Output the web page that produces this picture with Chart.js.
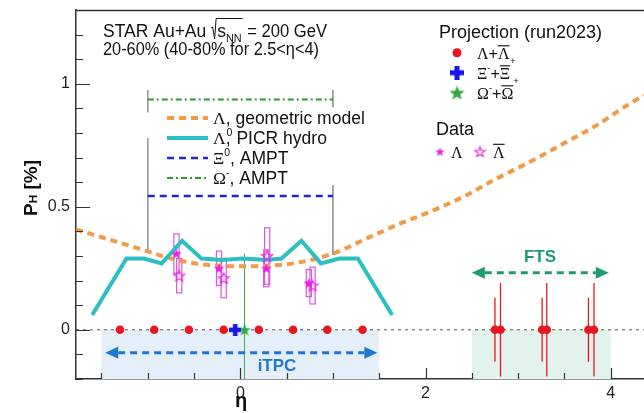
<!DOCTYPE html>
<html>
<head>
<meta charset="utf-8">
<script src="https://cdn.jsdelivr.net/npm/chart.js@4.4.1/dist/chart.umd.min.js"></script>
<style>
  html, body { margin: 0; padding: 0; background: #fff; }
  canvas { display: block; }
</style>
</head>
<body>
<canvas id="chart" width="644" height="413"></canvas>
<script>
// geometric model, Lambda
var etaGeo = [-1.775, -1.4, -1.05, -0.8, -0.44, 0.0, 0.57, 1.0, 1.33, 1.69, 2.05, 2.41, 2.77, 3.13, 3.49, 3.85, 4.21, 4.36];
var polGeo = [0.408, 0.365, 0.325, 0.295, 0.267, 0.258, 0.27, 0.31, 0.365, 0.426, 0.48, 0.541, 0.615, 0.683, 0.757, 0.832, 0.92, 0.953];

// PICR hydro, Lambda
var etaHydro = [-1.6, -1.23, -1.04, -0.85, -0.63, -0.42, -0.2, 0.02, 0.25, 0.44, 0.66, 0.87, 1.07, 1.27, 1.64];
var polHydro = [0.06, 0.29, 0.29, 0.27, 0.362, 0.29, 0.284, 0.29, 0.285, 0.289, 0.362, 0.27, 0.29, 0.29, 0.06];

// AMPT
var etaAmpt = [-1, 1];
var polXiAmpt = [0.544, 0.544];
var polOmegaAmpt = [0.936, 0.936];

// eta = +-1 markers (two visible pieces each side)
var etaMarkLeft = [-1, -1, -1, -1];
var polMarkLeft = [0.975, 0.884, 0.779, 0.316];
var etaMarkRight = [1, 1, 1, 1];
var polMarkRight = [0.975, 0.905, 0.588, 0.304];

// projections (run2023)
var etaProjLam = [-1.3, -0.93, -0.555, -0.18, 0.2, 0.57, 0.94, 1.32];
var polProjLam = [0, 0, 0, 0, 0, 0, 0, 0];
var etaProjXi = [-0.055];
var polProjXi = [0];
var etaProjOmega = [0.045];
var polProjOmega = [0];
var errProjOmega = [0.31];
var etaProjFts = [2.75, 2.81, 3.26, 3.31, 3.76, 3.82];
var polProjFts = [0, 0, 0, 0, 0, 0];
var errProjFts = [0.13, 0.19, 0.13, 0.19, 0.13, 0.19];

// measured Lambda / anti-Lambda with systematic boxes
var etaLam = [-0.69, -0.23, 0.28, 0.74];
var polLam = [0.31, 0.25, 0.25, 0.19];
var sysLam = [0.08, 0.07, 0.075, 0.055];
var etaLamBar = [-0.66, -0.18, 0.29, 0.78];
var polLamBar = [0.22, 0.21, 0.30, 0.18];
var sysLamBar = [0.07, 0.08, 0.115, 0.075];

// detector acceptance
var itpcRange = [-1.5, 1.5];
var itpcArrow = [-1.46, 1.48, -0.093];
var ftsRange = [2.5, 4.0];
var ftsArrow = [2.5, 3.98, 0.232];

var xTickLabels = [0, 2, 4];
var yTickLabels = [0, 0.5, 1];

var SANS = "'Liberation Sans', Arial, sans-serif";
var SERIF = "'Liberation Serif', 'Times New Roman', serif";

function pts(xs, ys) {
    var out = [];
    for (var i = 0; i < xs.length; i++) {
        out.push({x: xs[i], y: ys[i]});
    }
    return out;
}

// marker images
function starImg(size, fill, stroke, lw) {
    var c = document.createElement('canvas');
    c.width = size; c.height = size;
    var g = c.getContext('2d');
    var r = size / 2 - (lw || 0.5), ri = r * 0.42, cx = size / 2, cy = size / 2 + r * 0.08;
    g.beginPath();
    for (var i = 0; i < 10; i++) {
        var a = -Math.PI / 2 + i * Math.PI / 5;
        var rr = (i % 2) ? ri : r;
        g.lineTo(cx + rr * Math.cos(a), cy + rr * Math.sin(a));
    }
    g.closePath();
    if (fill) { g.fillStyle = fill; g.fill(); }
    if (stroke) { g.strokeStyle = stroke; g.lineWidth = lw; g.stroke(); }
    return c;
}

function plusImg(size, thick, color) {
    var c = document.createElement('canvas');
    c.width = size; c.height = size;
    var g = c.getContext('2d');
    g.fillStyle = color;
    g.fillRect(0, (size - thick) / 2, size, thick);
    g.fillRect((size - thick) / 2, 0, thick, size);
    return c;
}

var RED = '#e8161e';
var MAGENTA = '#ee1fee';
var MAG_BOX = '#dd55dd';
var ORANGE = '#f29a48';
var CYAN = '#2cbfc2';
var BLUE_AMPT = '#2424d4';
var GREEN_AMPT = '#2a9a2a';
var GREEN_STAR = '#33a845';
var ITPC = '#1f78d0';
var FTS = '#1f9a72';

var lamStar = starImg(12, MAGENTA, null, 0);
var lamBarStar = starImg(14, null, MAGENTA, 1.1);
var omegaStar = starImg(14, GREEN_STAR, null, 0);
var xiPlus = plusImg(12, 4.5, '#1515e8');
var lamStarSmall = starImg(11, MAGENTA, null, 0);
var lamBarStarSmall = starImg(13, null, MAGENTA, 1.1);
var omegaStarBig = starImg(17, GREEN_STAR, null, 0);
var xiPlusBig = plusImg(14, 5, '#1515e8');

// rich text: pieces drawn one after another
function rich(ctx, x, y, parts, base) {
    var cx = x;
    for (var i = 0; i < parts.length; i++) {
        var p = parts[i];
        var size = (p.s || 1) * base;
        ctx.font = (p.b ? 'bold ' : '') + size + 'px ' + (p.g ? SERIF : SANS);
        var w = ctx.measureText(p.t).width;
        var xx = cx + (p.dx || 0) * base;
        var yy = y + (p.dy || 0) * base;
        ctx.fillText(p.t, xx, yy);
        if (p.o) {
            ctx.fillRect(xx, yy - size * 0.86, w, Math.max(1, size * 0.07));
        }
        cx = xx + w;
    }
    return cx;
}

function arrow(ctx, x1, x2, y, color) {
    var hl = 13, hh = 6;
    ctx.save();
    ctx.strokeStyle = color;
    ctx.fillStyle = color;
    ctx.lineWidth = 3;
    ctx.setLineDash([7, 5]);
    ctx.beginPath();
    ctx.moveTo(x1 + hl, y);
    ctx.lineTo(x2 - hl, y);
    ctx.stroke();
    ctx.setLineDash([]);
    ctx.beginPath();
    ctx.moveTo(x1, y); ctx.lineTo(x1 + hl, y - hh); ctx.lineTo(x1 + hl, y + hh); ctx.closePath();
    ctx.fill();
    ctx.beginPath();
    ctx.moveTo(x2, y); ctx.lineTo(x2 - hl, y - hh); ctx.lineTo(x2 - hl, y + hh); ctx.closePath();
    ctx.fill();
    ctx.restore();
}

var decor = {
    id: 'decor',
    beforeDatasetsDraw: function(chart) {
        var ctx = chart.ctx, xs = chart.scales.x, ys = chart.scales.y, a = chart.chartArea;
        ctx.save();
        // acceptance bands below zero
        ctx.fillStyle = 'rgb(228,239,250)';
        ctx.fillRect(xs.getPixelForValue(itpcRange[0]), ys.getPixelForValue(0),
            xs.getPixelForValue(itpcRange[1]) - xs.getPixelForValue(itpcRange[0]), a.bottom - ys.getPixelForValue(0));
        ctx.fillStyle = 'rgb(226,242,237)';
        ctx.fillRect(xs.getPixelForValue(ftsRange[0]), ys.getPixelForValue(0),
            xs.getPixelForValue(ftsRange[1]) - xs.getPixelForValue(ftsRange[0]), a.bottom - ys.getPixelForValue(0));

        // zero line
        ctx.strokeStyle = '#555';
        ctx.lineWidth = 1;
        ctx.setLineDash([3, 4]);
        ctx.beginPath();
        ctx.moveTo(a.left, ys.getPixelForValue(0));
        ctx.lineTo(a.right, ys.getPixelForValue(0));
        ctx.stroke();
        ctx.setLineDash([]);

        // systematic boxes
        ctx.strokeStyle = MAG_BOX;
        ctx.lineWidth = 1.2;
        function boxes(eta, pol, sys) {
            for (var i = 0; i < eta.length; i++) {
                var x0 = xs.getPixelForValue(eta[i] - 0.028), x1 = xs.getPixelForValue(eta[i] + 0.028);
                var y0 = ys.getPixelForValue(pol[i] + sys[i]), y1 = ys.getPixelForValue(pol[i] - sys[i]);
                ctx.strokeRect(x0, y0, x1 - x0, y1 - y0);
            }
        }
        boxes(etaLam, polLam, sysLam);
        boxes(etaLamBar, polLamBar, sysLamBar);

        // projection error bars
        ctx.strokeStyle = RED;
        ctx.lineWidth = 1.3;
        for (var i = 0; i < etaProjFts.length; i++) {
            var x = xs.getPixelForValue(etaProjFts[i]);
            ctx.beginPath();
            ctx.moveTo(x, ys.getPixelForValue(polProjFts[i] + errProjFts[i]));
            ctx.lineTo(x, ys.getPixelForValue(polProjFts[i] - errProjFts[i]));
            ctx.stroke();
        }
        ctx.strokeStyle = '#45b050';
        ctx.lineWidth = 1;
        var xo = xs.getPixelForValue(etaProjOmega[0]);
        ctx.beginPath();
        ctx.moveTo(xo, ys.getPixelForValue(polProjOmega[0] + errProjOmega[0]));
        ctx.lineTo(xo, Math.min(a.bottom, ys.getPixelForValue(polProjOmega[0] - errProjOmega[0])));
        ctx.stroke();
        ctx.restore();
    },
    afterDatasetsDraw: function(chart) {
        var ctx = chart.ctx, xs = chart.scales.x, ys = chart.scales.y, a = chart.chartArea;
        ctx.save();

        // arrows and detector labels
        arrow(ctx, xs.getPixelForValue(itpcArrow[0]), xs.getPixelForValue(itpcArrow[1]), ys.getPixelForValue(itpcArrow[2]), ITPC);
        arrow(ctx, xs.getPixelForValue(ftsArrow[0]), xs.getPixelForValue(ftsArrow[1]), ys.getPixelForValue(ftsArrow[2]), FTS);
        ctx.textAlign = 'center';
        ctx.textBaseline = 'alphabetic';
        ctx.font = 'bold 17px ' + SANS;
        ctx.fillStyle = ITPC;
        ctx.fillText('iTPC', 277, 371);
        ctx.fillStyle = FTS;
        ctx.fillText('FTS', 540, 262);

        // inward tick marks
        ctx.strokeStyle = '#333';
        ctx.lineWidth = 1.2;
        ctx.beginPath();
        for (var k = -2; k <= 13; k++) {
            var v = k / 10;
            var major = (k % 5 === 0);
            var yy = Math.round(ys.getPixelForValue(v)) + 0.5;
            ctx.moveTo(a.left, yy);
            ctx.lineTo(a.left + (major ? 14 : 7), yy);
        }
        for (var m = -3; m <= 8; m++) {
            var xv = m / 2;
            var xx = Math.round(xs.getPixelForValue(xv)) + 0.5;
            ctx.moveTo(xx, a.bottom);
            ctx.lineTo(xx, a.bottom - ((m % 4 === 0) ? 11 : 6));
        }
        ctx.stroke();

        // top frame
        ctx.strokeStyle = '#333';
        ctx.lineWidth = 1.5;
        ctx.beginPath();
        ctx.moveTo(a.left, a.top + 0.5);
        ctx.lineTo(a.right, a.top + 0.5);
        ctx.stroke();

        // axis titles
        ctx.fillStyle = '#111';
        ctx.textAlign = 'left';
        ctx.font = 'bold 20px ' + SANS;
        ctx.fillText('\u03b7', 235, 407);
        ctx.save();
        ctx.translate(37, 216);
        ctx.rotate(-Math.PI / 2);
        rich(ctx, 0, 0, [{t: 'P', b: true}, {t: 'H', b: true, s: 0.62, dy: 0.02}, {t: ' [%]', b: true}], 19);
        ctx.restore();

        // header
        ctx.fillStyle = '#111';
        ctx.font = '17.5px ' + SANS;
        var hx = 103, hy = 37;
        ctx.fillText('STAR Au+Au ', hx, hy);
        hx += ctx.measureText('STAR Au+Au ').width;
        var rx = hx;
        hx += 6;
        var sEnd = rich(ctx, hx, hy, [{t: 's'}, {t: 'NN', s: 0.62, dy: 0.3}], 17.5);
        ctx.strokeStyle = '#111';
        ctx.lineWidth = 1;
        ctx.beginPath();
        ctx.moveTo(rx, hy - 9);
        ctx.lineTo(rx + 1.5, hy - 10);
        ctx.lineTo(rx + 3.5, hy + 2);
        ctx.lineTo(rx + 5, hy - 18.5);
        ctx.lineTo(sEnd + 1, hy - 18.5);
        ctx.stroke();
        ctx.font = '17.5px ' + SANS;
        ctx.fillText(' = 200 GeV', sEnd + 1, hy, 327 - sEnd - 1);
        ctx.fillText('20-60% (40-80% for 2.5<\u03b7<4)', 103, 55, 216);

        // model legend
        var lx0 = 167, lx1 = 208, tx = 213;
        var rows = [118, 138, 158, 178];
        function sample(y, color, width, dash) {
            ctx.strokeStyle = color;
            ctx.lineWidth = width;
            ctx.setLineDash(dash);
            ctx.beginPath();
            ctx.moveTo(lx0, y);
            ctx.lineTo(lx1, y);
            ctx.stroke();
            ctx.setLineDash([]);
        }
        sample(rows[0], ORANGE, 4, [7, 5]);
        sample(rows[1], CYAN, 4, []);
        sample(rows[2], BLUE_AMPT, 2.5, [7, 5]);
        sample(rows[3], GREEN_AMPT, 2, [6, 3, 2, 3]);
        ctx.fillStyle = '#111';
        var lb = 17.5;
        rich(ctx, tx, rows[0] + 6, [{t: '\u039b', g: true}, {t: ', geometric model'}], lb);
        var e1 = rich(ctx, tx, rows[1] + 6, [{t: '\u039b', g: true}, {t: ','}], lb);
        rich(ctx, e1 - 4, rows[1] + 6, [{t: '0', s: 0.6, dy: -0.45}], lb);
        rich(ctx, e1 + 1, rows[1] + 6, [{t: ' PICR hydro'}], lb);
        rich(ctx, tx, rows[2] + 6, [{t: '\u039e', g: true}, {t: '0', s: 0.6, dy: -0.45}, {t: ', AMPT'}], lb);
        rich(ctx, tx, rows[3] + 6, [{t: '\u03a9', g: true}, {t: '-', s: 0.6, dy: -0.45}, {t: ', AMPT'}], lb);

        // projection legend
        ctx.font = '18px ' + SANS;
        ctx.fillText('Projection (run2023)', 439, 38, 165);
        ctx.fillStyle = RED;
        ctx.beginPath();
        ctx.arc(457, 52.7, 4.5, 0, Math.PI * 2);
        ctx.fill();
        ctx.drawImage(xiPlusBig, 457 - 7, 72.7 - 7);
        ctx.drawImage(omegaStarBig, 457 - 8.5, 92.7 - 8.5);
        ctx.fillStyle = '#111';
        var gb = 16;
        rich(ctx, 477, 59, [{t: '\u039b', g: true}, {t: '+'}, {t: '\u039b', g: true, o: true}], gb);
        rich(ctx, 477, 79, [{t: '\u039e', g: true}, {t: '-', s: 0.6, dy: -0.5}, {t: '+'}, {t: '\u039e', g: true, o: true}, {t: '+', s: 0.6, dy: -0.95}], gb);
        rich(ctx, 477, 99, [{t: '\u03a9', g: true}, {t: '-', s: 0.6, dy: -0.5}, {t: '+'}, {t: '\u03a9', g: true, o: true}, {t: '+', s: 0.6, dy: -0.95}], gb);

        // data legend
        ctx.font = '18px ' + SANS;
        ctx.fillText('Data', 436, 135);
        ctx.drawImage(lamStarSmall, 440 - 5.5, 151.7 - 5.5);
        ctx.drawImage(lamBarStarSmall, 480 - 6.5, 151.7 - 6.5);
        rich(ctx, 451, 157.5, [{t: '\u039b', g: true}], gb);
        rich(ctx, 493, 157.5, [{t: '\u039b', g: true, o: true}], gb);

        ctx.restore();
    }
};

var datasets = [
    {
        label: 'Lambda', data: pts(etaLam, polLam), order: 0,
        pointStyle: lamStar, pointRadius: 6, showLine: false
    },
    {
        label: 'anti-Lambda', data: pts(etaLamBar, polLamBar), order: 0,
        pointStyle: lamBarStar, pointRadius: 7, showLine: false
    },
    {
        label: 'Xi projection', data: pts(etaProjXi, polProjXi), order: 1,
        pointStyle: xiPlus, pointRadius: 6, showLine: false
    },
    {
        label: 'Omega projection', data: pts(etaProjOmega, polProjOmega), order: 1,
        pointStyle: omegaStar, pointRadius: 7, showLine: false
    },
    {
        label: 'Lambda projection', data: pts(etaProjLam, polProjLam), order: 2,
        pointStyle: 'circle', pointRadius: 4.3, backgroundColor: RED, borderWidth: 0, showLine: false
    },
    {
        label: 'Lambda projection FTS', data: pts(etaProjFts, polProjFts), order: 2,
        pointStyle: 'circle', pointRadius: 4.3, backgroundColor: RED, borderWidth: 0, showLine: false
    },
    {
        label: 'PICR hydro', data: pts(etaHydro, polHydro), order: 4, showLine: true,
        borderColor: CYAN, borderWidth: 4, pointRadius: 0, tension: 0, borderJoinStyle: 'miter'
    },
    {
        label: 'geometric model', data: pts(etaGeo, polGeo), order: 5, showLine: true,
        borderColor: ORANGE, borderWidth: 4, borderDash: [7, 5], pointRadius: 0,
        cubicInterpolationMode: 'monotone'
    },
    {
        label: 'Xi AMPT', data: pts(etaAmpt, polXiAmpt), order: 5, showLine: true,
        borderColor: BLUE_AMPT, borderWidth: 2.5, borderDash: [7, 5], pointRadius: 0
    },
    {
        label: 'Omega AMPT', data: pts(etaAmpt, polOmegaAmpt), order: 5, showLine: true,
        borderColor: GREEN_AMPT, borderWidth: 2, borderDash: [6, 3, 2, 3], pointRadius: 0
    },
    {
        label: 'eta -1', data: [
            {x: etaMarkLeft[0], y: polMarkLeft[0]}, {x: etaMarkLeft[1], y: polMarkLeft[1]},
            {x: etaMarkLeft[1], y: null},
            {x: etaMarkLeft[2], y: polMarkLeft[2]}, {x: etaMarkLeft[3], y: polMarkLeft[3]}
        ], order: 6, showLine: true, spanGaps: false,
        borderColor: '#999', borderWidth: 1, pointRadius: 0
    },
    {
        label: 'eta +1', data: [
            {x: etaMarkRight[0], y: polMarkRight[0]}, {x: etaMarkRight[1], y: polMarkRight[1]},
            {x: etaMarkRight[1], y: null},
            {x: etaMarkRight[2], y: polMarkRight[2]}, {x: etaMarkRight[3], y: polMarkRight[3]}
        ], order: 6, showLine: true, spanGaps: false,
        borderColor: '#999', borderWidth: 1, pointRadius: 0
    }
];

function near(v, list) {
    for (var i = 0; i < list.length; i++) {
        if (Math.abs(v - list[i]) < 1e-6) return list[i];
    }
    return null;
}

var ctx = document.getElementById('chart').getContext('2d');

var chart = new Chart(ctx, {
    type: 'scatter',
    data: {datasets: datasets},
    options: {
        responsive: false,
        animation: false,
        devicePixelRatio: 1,
        layout: {autoPadding: false, padding: {top: 10, right: 0, left: 0, bottom: 0}},
        plugins: {legend: {display: false}, tooltip: {enabled: false}},
        scales: {
            x: {
                type: 'linear', min: -1.775, max: 4.36,
                afterFit: function(s) {
                    s.height = 34;
                    s.paddingLeft = 0; s.paddingRight = 0;
                },
                grid: {display: true, drawOnChartArea: false, drawTicks: false},
                border: {color: '#333', width: 1.5},
                ticks: {
                    stepSize: 0.5, includeBounds: false, autoSkip: false, maxRotation: 0, padding: 5,
                    color: '#222', font: {family: SANS, size: 16},
                    callback: function(v) {
                        var n = near(v, xTickLabels);
                        return n === null ? '' : String(n);
                    }
                }
            },
            y: {
                type: 'linear', min: -0.2, max: 1.3,
                afterFit: function(s) {
                    s.width = 76;
                    s.paddingTop = 0; s.paddingBottom = 0;
                },
                grid: {display: true, drawOnChartArea: false, drawTicks: false},
                border: {color: '#333', width: 1.5},
                ticks: {
                    stepSize: 0.1, includeBounds: false, autoSkip: false, padding: 6,
                    color: '#222', font: {family: SANS, size: 16},
                    callback: function(v) {
                        var n = near(v, yTickLabels);
                        return n === null ? '' : String(n);
                    }
                }
            }
        }
    },
    plugins: [decor]
});
</script>
</body>
</html>
